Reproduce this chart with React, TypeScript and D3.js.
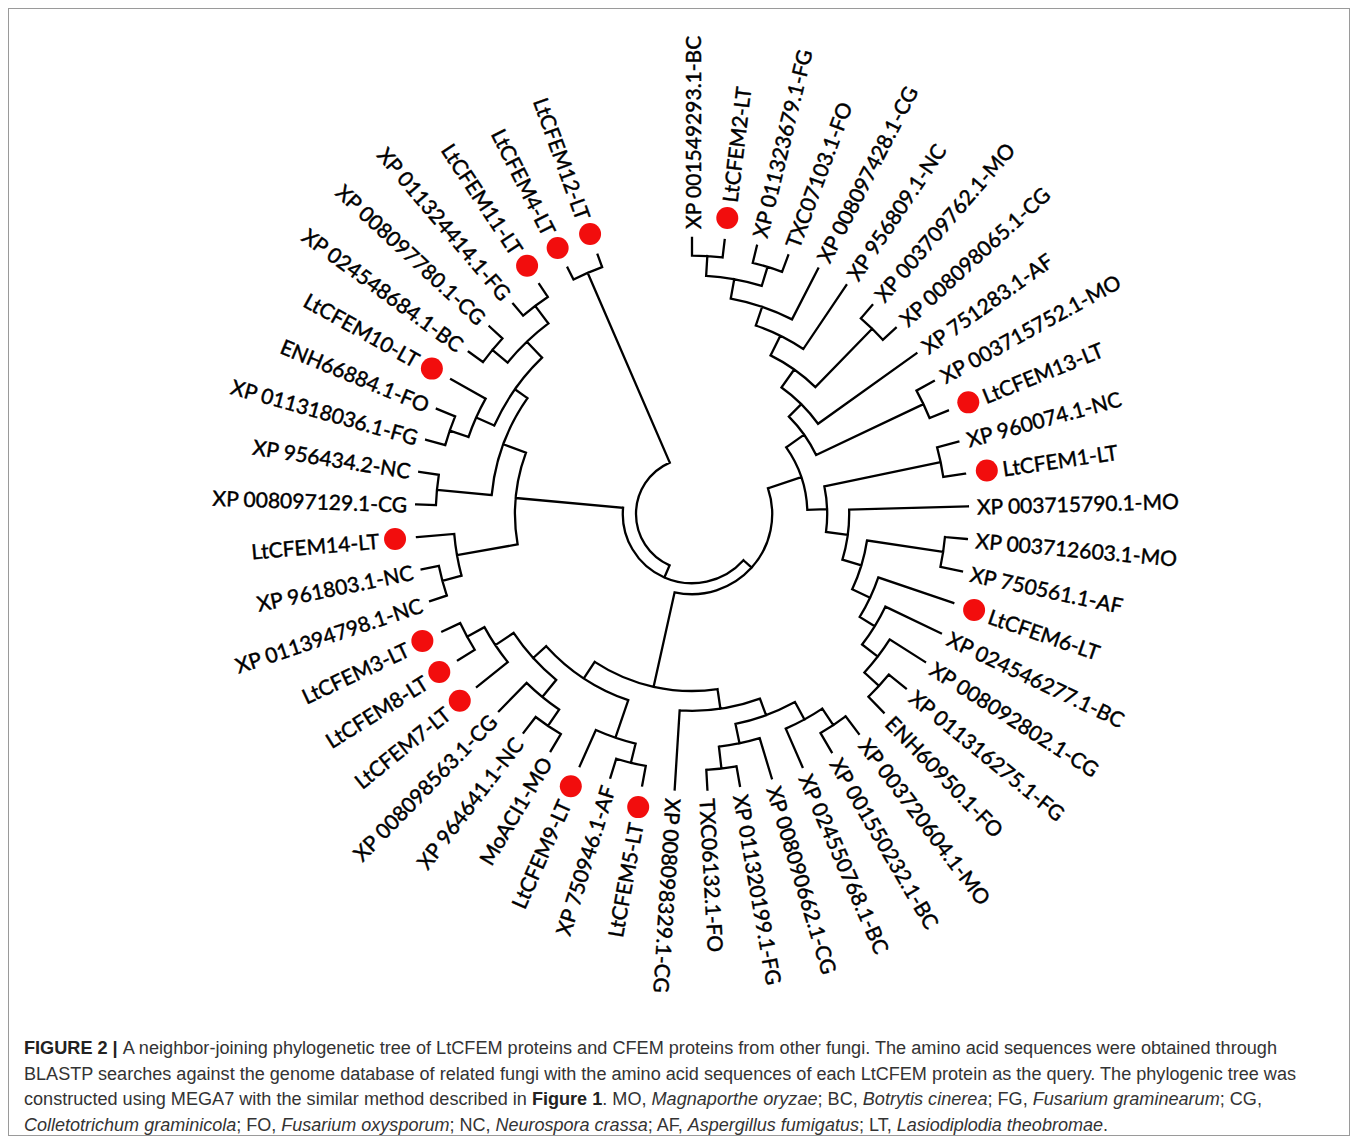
import React, { useMemo } from "react";
import * as d3 from "d3";

// Leaf labels, clockwise from the top of the circle.
const leafNames: string[] = [
  "XP 001549293.1-BC",
  "LtCFEM2-LT",
  "XP 011323679.1-FG",
  "TXC07103.1-FO",
  "XP 008097428.1-CG",
  "XP 956809.1-NC",
  "XP 003709762.1-MO",
  "XP 008098065.1-CG",
  "XP 751283.1-AF",
  "XP 003715752.1-MO",
  "LtCFEM13-LT",
  "XP 960074.1-NC",
  "LtCFEM1-LT",
  "XP 003715790.1-MO",
  "XP 003712603.1-MO",
  "XP 750561.1-AF",
  "LtCFEM6-LT",
  "XP 024546277.1-BC",
  "XP 008092802.1-CG",
  "XP 011316275.1-FG",
  "ENH60950.1-FO",
  "XP 003720604.1-MO",
  "XP 001550232.1-BC",
  "XP 024550768.1-BC",
  "XP 008090662.1-CG",
  "XP 011320199.1-FG",
  "TXC06132.1-FO",
  "XP 008098329.1-CG",
  "LtCFEM5-LT",
  "XP 750946.1-AF",
  "LtCFEM9-LT",
  "MoACI1-MO",
  "XP 964641.1-NC",
  "XP 008098563.1-CG",
  "LtCFEM7-LT",
  "LtCFEM8-LT",
  "LtCFEM3-LT",
  "XP 011394798.1-NC",
  "XP 961803.1-NC",
  "LtCFEM14-LT",
  "XP 008097129.1-CG",
  "XP 956434.2-NC",
  "XP 011318036.1-FG",
  "ENH66884.1-FO",
  "LtCFEM10-LT",
  "XP 024548684.1-BC",
  "XP 008097780.1-CG",
  "XP 011324414.1-FG",
  "LtCFEM11-LT",
  "LtCFEM4-LT",
  "LtCFEM12-LT",
];

// Angular span used by the leaves (degrees, clockwise from 12 o'clock).
const leafAngleRange: [number, number] = [0, 340];

// Topology: [nodeDepth, ...children]; a bare number is a leaf index.
// Depth runs from 0 at the root to 100 at the leaves.
type Shape = number | [number, ...Shape[]];
const treeShape: Shape = [0,
  [94, 49, 50],
  [6,
    [11,
      [27,
        [37,
          [45,
            [55,
              [65,
                [74,
                  [83, [92, 0, 1], [92, 2, 3]],
                  4],
                5],
              [92, 6, 7]],
            8],
          [91, 9, 10]],
        [36,
          [90, 11, 12],
          [46, 13,
            [55, [90, 14, 15],
              [64, 16,
                [72, 17,
                  [81, 18, [90, 19, 20]]]]]]]],
      [55,
        [64,
          [72,
            [82, [91, 35, 36], 34],
            [82, 33, [91, 31, 32]]],
          [82, 30, [91, 28, 29]]],
        [64, 27,
          [72,
            [81, 24, [91, 25, 26]],
            [81, 23, [90, 21, 22]]]]]],
    [55,
      [83, 39, [92, 37, 38]],
      [66, [91, 40, 41],
        [73,
          [83, [92, 45, 46], [93, 47, 48]],
          [82, 44, [91, 42, 43]]]]]]];

const captionLines = [
  [
    { t: "FIGURE 2 | ", b: true },
    { t: "A neighbor-joining phylogenetic tree of LtCFEM proteins and CFEM proteins from other fungi. The amino acid sequences were obtained through" },
  ],
  [
    { t: "BLASTP searches against the genome database of related fungi with the amino acid sequences of each LtCFEM protein as the query. The phylogenic tree was" },
  ],
  [
    { t: "constructed using MEGA7 with the similar method described in " },
    { t: "Figure 1", b: true },
    { t: ". MO, " },
    { t: "Magnaporthe oryzae", i: true },
    { t: "; BC, " },
    { t: "Botrytis cinerea", i: true },
    { t: "; FG, " },
    { t: "Fusarium graminearum", i: true },
    { t: "; CG," },
  ],
  [
    { t: "Colletotrichum graminicola", i: true },
    { t: "; FO, " },
    { t: "Fusarium oxysporum", i: true },
    { t: "; NC, " },
    { t: "Neurospora crassa", i: true },
    { t: "; AF, " },
    { t: "Aspergillus fumigatus", i: true },
    { t: "; LT, " },
    { t: "Lasiodiplodia theobromae", i: true },
    { t: "." },
  ],
];
const captionWidths = [1253, 1272, 1238, 1084];

const W = 1358;
const H = 1141;
const cx = 692;
const cy = 514;

const rad = (deg: number) => (deg * Math.PI) / 180;
const polar = (r: number, deg: number): [number, number] => [
  cx + r * Math.sin(rad(deg)),
  cy - r * Math.cos(rad(deg)),
];

export default function App() {
  const { treePath, leaves } = useMemo(() => {
    const build = (s: Shape): any =>
      typeof s === "number"
        ? { leaf: s }
        : { depth: s[0], children: s.slice(1).map((c) => build(c as Shape)) };
    const root: any = d3.hierarchy(build(treeShape), (d: any) => d.children);

    const angle = d3
      .scaleLinear()
      .domain([0, leafNames.length - 1])
      .range(leafAngleRange);
    const radius = d3.scaleLinear().domain([0, 100]).range([56, 276]);

    root.eachAfter((n: any) => {
      if (!n.children) {
        n.a = angle(n.data.leaf);
        n.r = radius(100);
      } else {
        const as = n.children.map((c: any) => c.a);
        n.a0 = d3.min(as);
        n.a1 = d3.max(as);
        n.a = (n.a0 + n.a1) / 2;
        n.r = radius(n.data.depth);
      }
    });

    const p = d3.path();
    root.each((n: any) => {
      if (n.children) {
        const [x0, y0] = polar(n.r, n.a0);
        p.moveTo(x0, y0);
        p.arc(cx, cy, n.r, rad(n.a0 - 90), rad(n.a1 - 90));
      }
      if (n.parent) {
        const [xa, ya] = polar(n.parent.r, n.a);
        const [xb, yb] = polar(n.r, n.a);
        p.moveTo(xa, ya);
        p.lineTo(xb, yb);
      }
    });

    const leaves = root.leaves().map((n: any) => {
      const name = leafNames[n.data.leaf];
      return { name, a: n.a, marked: name.endsWith("-LT") };
    });
    return { treePath: p.toString(), leaves };
  }, []);

  return (
    <svg
      width={W}
      height={H}
      viewBox={`0 0 ${W} ${H}`}
      style={{ position: "absolute", left: 0, top: 0, background: "#fff" }}
    >
      <rect x={0} y={0} width={W} height={H} fill="#fff" />
      <rect x={8.5} y={8.5} width={1341} height={1127} fill="none" stroke="#9a9a9a" strokeWidth={1} />

      <path d={treePath} fill="none" stroke="#000" strokeWidth={2.3} strokeLinecap="square" />

      {leaves.map((l: any) => {
        const right = l.a < 187;
        const lr = l.marked ? 314 : 285;
        const [x, y] = polar(lr, l.a);
        const rot = right ? l.a - 90 : l.a + 90;
        const [dx, dy] = polar(298, l.a);
        return (
          <g key={l.name}>
            {l.marked && <circle cx={dx} cy={dy} r={11} fill="#f20d0d" />}
            <text
              transform={`translate(${x},${y}) rotate(${rot})`}
              textAnchor={right ? "start" : "end"}
              dominantBaseline="central"
              fontFamily="Lato, 'Open Sans', sans-serif"
              fontSize={21}
              fill="#000"
              stroke="#000"
              strokeWidth={0.45}
            >
              {l.name}
            </text>
          </g>
        );
      })}

      <g fontFamily="'Liberation Sans Narrow', 'Liberation Sans', Arial, sans-serif" fontSize={18} fill="#333">
        {captionLines.map((line, i) => (
          <text
            key={i}
            x={24}
            y={1054 + i * 25.5}
            textLength={captionWidths[i]}
            lengthAdjust="spacingAndGlyphs"
          >
            {line.map((s: any, j) => (
              <tspan
                key={j}
                fontWeight={s.b ? "bold" : "normal"}
                fontStyle={s.i ? "italic" : "normal"}
                fill={s.b ? "#222" : "#333"}
              >
                {s.t}
              </tspan>
            ))}
          </text>
        ))}
      </g>
    </svg>
  );
}
